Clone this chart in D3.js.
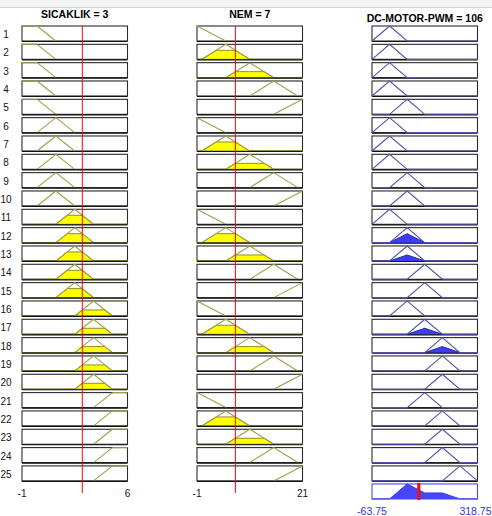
<!DOCTYPE html>
<html>
<head>
<meta charset="utf-8">
<script src="https://cdn.jsdelivr.net/npm/d3@7"></script>
<style>
  html, body { margin: 0; padding: 0; background: #ffffff; }
  svg { display: block; font-family: "Liberation Sans", Arial, sans-serif; }
</style>
</head>
<body>
<svg id="chart" width="492" height="516"></svg>
<script>
// ---------------- DATA ----------------
const ruleNumbers = d3.range(1, 26);

const inputNames = ["SICAKLIK", "NEM"];
const inputValues = [3, 7];
const inputRanges = [[-1, 6], [-1, 21]];
const inputTickLabels = [["-1", "6"], ["-1", "21"]];

const outputName = "DC-MOTOR-PWM";
const outputValue = 106;
const outputRange = [-63.75, 318.75];
const outputTickLabels = ["-63.75", "318.75"];

// membership function breakpoints [x, mu]
const sicaklikMFs = [
  [[-1, 1], [0, 1], [1.25, 0], [6, 0]],
  [[-1, 0], [0, 0], [1.25, 1], [2.5, 0], [6, 0]],
  [[-1, 0], [1.25, 0], [2.5, 1], [3.75, 0], [6, 0]],
  [[-1, 0], [2.5, 0], [3.75, 1], [5, 0], [6, 0]],
  [[-1, 0], [3.75, 0], [5, 1], [6, 1]]
];
const nemMFs = [
  [[-1, 1], [5, 0], [21, 0]],
  [[-1, 0], [0, 0], [5, 1], [10, 0], [21, 0]],
  [[-1, 0], [5, 0], [10, 1], [15, 0], [21, 0]],
  [[-1, 0], [10, 0], [15, 1], [20, 0], [21, 0]],
  [[-1, 0], [15, 0], [21, 1]]
];
const pwmMFs = [
  [[-63.75, 0], [0, 1], [63.75, 0], [318.75, 0]],
  [[-63.75, 0], [0, 0], [63.75, 1], [127.5, 0], [318.75, 0]],
  [[-63.75, 0], [63.75, 0], [127.5, 1], [191.25, 0], [318.75, 0]],
  [[-63.75, 0], [127.5, 0], [191.25, 1], [255, 0], [318.75, 0]],
  [[-63.75, 0], [191.25, 0], [255, 1], [318.75, 0]]
];

// rule base (MF index, 0-based)
const ruleSicaklik = [0,0,0,0,0, 1,1,1,1,1, 2,2,2,2,2, 3,3,3,3,3, 4,4,4,4,4];
const ruleNem      = [0,1,2,3,4, 0,1,2,3,4, 0,1,2,3,4, 0,1,2,3,4, 0,1,2,3,4];
const rulePwm      = [0,0,0,0,1, 0,0,0,1,1, 0,1,1,2,2, 1,2,3,3,3, 2,3,3,3,4];

// membership degrees of the current inputs (per MF)
const sicaklikDegrees = [0, 0, 0.6, 0.4, 0];
const nemDegrees = [0, 0.6, 0.4, 0, 0];

// aggregated output
const aggregatePoints = [[-63.75, 0], [0, 0], [63.75, 1], [127.5, 0.4], [191.25, 0.4], [255, 0], [318.75, 0]];

// ---------------- LAYOUT ----------------
const svg = d3.select("#chart");
const colX = [22, 197, 372];
const colW = 105.5;
const row0 = 26, rowStep = 18.33, rowH = 15;
const rowTop = i => row0 + i * rowStep;

const olive = "#a0a048";
const yellow = "#ffff00";
const navy = "#5252aa";
const blueFill = "#3d3dff";
const boxStroke = "#2a2a2a";

// top strip
svg.append("rect").attr("x", 0).attr("y", 0).attr("width", 492).attr("height", 7).attr("fill", "#f3f3f3");
svg.append("line").attr("x1", 0).attr("x2", 492).attr("y1", 7.5).attr("y2", 7.5).attr("stroke", "#cfcfcf");

// row labels
svg.append("g").selectAll("text").data(ruleNumbers).join("text")
  .attr("x", 6).attr("y", (d, i) => rowTop(i) + 12)
  .attr("text-anchor", "middle").attr("font-size", 10).attr("fill", "#111")
  .text(d => d);

function clipPoints(pts, h) {
  // min(mu, h) for a piecewise linear function
  const out = [];
  for (let k = 0; k < pts.length; k++) {
    const [x, y] = pts[k];
    if (k > 0) {
      const [px, py] = pts[k - 1];
      if ((py - h) * (y - h) < 0) {
        const t = (h - py) / (y - py);
        out.push([px + t * (x - px), h]);
      }
    }
    out.push([x, Math.min(y, h)]);
  }
  return out;
}

function drawInputColumn(c, mfs, ruleIdx, degrees, name, value, range, ticks) {
  const x = d3.scaleLinear().domain(range).range([colX[c], colX[c] + colW]);
  const g = svg.append("g");
  g.append("text").attr("x", colX[c] + colW / 2).attr("y", 18.3)
    .attr("text-anchor", "middle").attr("font-size", 10.5).attr("font-weight", "bold")
    .attr("fill", "#000").text(name + " = " + value);

  ruleIdx.forEach((m, i) => {
    const top = rowTop(i);
    const y = d3.scaleLinear().domain([0, 1]).range([top + rowH, top]);
    const line = d3.line().x(d => x(d[0])).y(d => y(d[1]));
    const rg = g.append("g");
    rg.append("rect").attr("x", colX[c]).attr("y", top).attr("width", colW).attr("height", rowH)
      .attr("fill", "#fff").attr("stroke", boxStroke).attr("stroke-width", 1.1);
    const deg = degrees[m];
    if (deg > 0) {
      const cp = clipPoints(mfs[m], deg);
      rg.append("path").attr("d", line(cp) + "Z")
        .attr("fill", yellow).attr("stroke", "#8c8c30").attr("stroke-width", 1);
    }
    // draw non-zero parts of MF line
    const pts = mfs[m];
    for (let k = 1; k < pts.length; k++) {
      if (pts[k - 1][1] === 0 && pts[k][1] === 0) continue;
      rg.append("path").attr("d", line([pts[k - 1], pts[k]]))
        .attr("fill", "none").attr("stroke", olive).attr("stroke-width", 1.1);
    }
    rg.append("line").attr("x1", colX[c]).attr("x2", colX[c] + colW)
      .attr("y1", top + rowH + 0.5).attr("y2", top + rowH + 0.5)
      .attr("stroke", "#111").attr("stroke-width", 1.2);
  });

  g.append("line").attr("x1", x(value)).attr("x2", x(value))
    .attr("y1", row0).attr("y2", 493).attr("stroke", "#ff0000").attr("stroke-width", 1);

  g.append("text").attr("x", x(range[0])).attr("y", 497.3).attr("text-anchor", "middle")
    .attr("font-size", 10).attr("fill", "#111").text(ticks[0]);
  g.append("text").attr("x", x(range[1])).attr("y", 497.3).attr("text-anchor", "middle")
    .attr("font-size", 10).attr("fill", "#111").text(ticks[1]);
}

drawInputColumn(0, sicaklikMFs, ruleSicaklik, sicaklikDegrees, inputNames[0], inputValues[0], inputRanges[0], inputTickLabels[0]);
drawInputColumn(1, nemMFs, ruleNem, nemDegrees, inputNames[1], inputValues[1], inputRanges[1], inputTickLabels[1]);

// output column
(function () {
  const c = 2;
  const x = d3.scaleLinear().domain(outputRange).range([colX[c], colX[c] + colW]);
  const g = svg.append("g");
  g.append("text").attr("x", colX[c] + colW / 2).attr("y", 21.5)
    .attr("text-anchor", "middle").attr("font-size", 10.5).attr("font-weight", "bold")
    .attr("fill", "#000").text(outputName + " = " + outputValue);

  rulePwm.forEach((m, i) => {
    const top = rowTop(i);
    const y = d3.scaleLinear().domain([0, 1]).range([top + rowH, top]);
    const line = d3.line().x(d => x(d[0])).y(d => y(d[1]));
    const rg = g.append("g");
    rg.append("rect").attr("x", colX[c]).attr("y", top).attr("width", colW).attr("height", rowH)
      .attr("fill", "#fff").attr("stroke", boxStroke).attr("stroke-width", 1.1);
    rg.append("line").attr("x1", colX[c]).attr("x2", colX[c] + colW)
      .attr("y1", top + rowH + 0.5).attr("y2", top + rowH + 0.5)
      .attr("stroke", "#111").attr("stroke-width", 1.2);
    const w = Math.min(sicaklikDegrees[ruleSicaklik[i]], nemDegrees[ruleNem[i]]);
    if (w > 0) {
      const sp = pwmMFs[m].map(d => [d[0], d[1] * w]);
      rg.append("path").attr("d", line(sp))
        .attr("fill", blueFill).attr("stroke", "#2a2a99").attr("stroke-width", 1);
    }
    rg.append("path").attr("d", line(pwmMFs[m]))
      .attr("fill", "none").attr("stroke", navy).attr("stroke-width", 1.1);
  });

  // aggregate
  const top = rowTop(25) - 0.3;
  const y = d3.scaleLinear().domain([0, 1]).range([top + rowH, top]);
  const line = d3.line().x(d => x(d[0])).y(d => y(d[1]));
  g.append("rect").attr("x", colX[c]).attr("y", top).attr("width", colW).attr("height", rowH)
    .attr("fill", "#fff").attr("stroke", "#4a4af0").attr("stroke-width", 1.1);
  g.append("path").attr("d", line(aggregatePoints))
    .attr("fill", "#4646ff").attr("stroke", "#3a3aee").attr("stroke-width", 1);
  g.append("line").attr("x1", x(outputValue)).attr("x2", x(outputValue))
    .attr("y1", top - 1).attr("y2", top + rowH + 1)
    .attr("stroke", "#f01010").attr("stroke-width", 3.2);

  g.append("text").attr("x", x(outputRange[0])).attr("y", 514.5).attr("text-anchor", "middle")
    .attr("font-size", 10.5).attr("fill", "#3434e0").text(outputTickLabels[0]);
  g.append("text").attr("x", 491.5).attr("y", 514.5).attr("text-anchor", "end")
    .attr("font-size", 10.5).attr("fill", "#3434e0").text(outputTickLabels[1]);
})();
</script>
</body>
</html>
